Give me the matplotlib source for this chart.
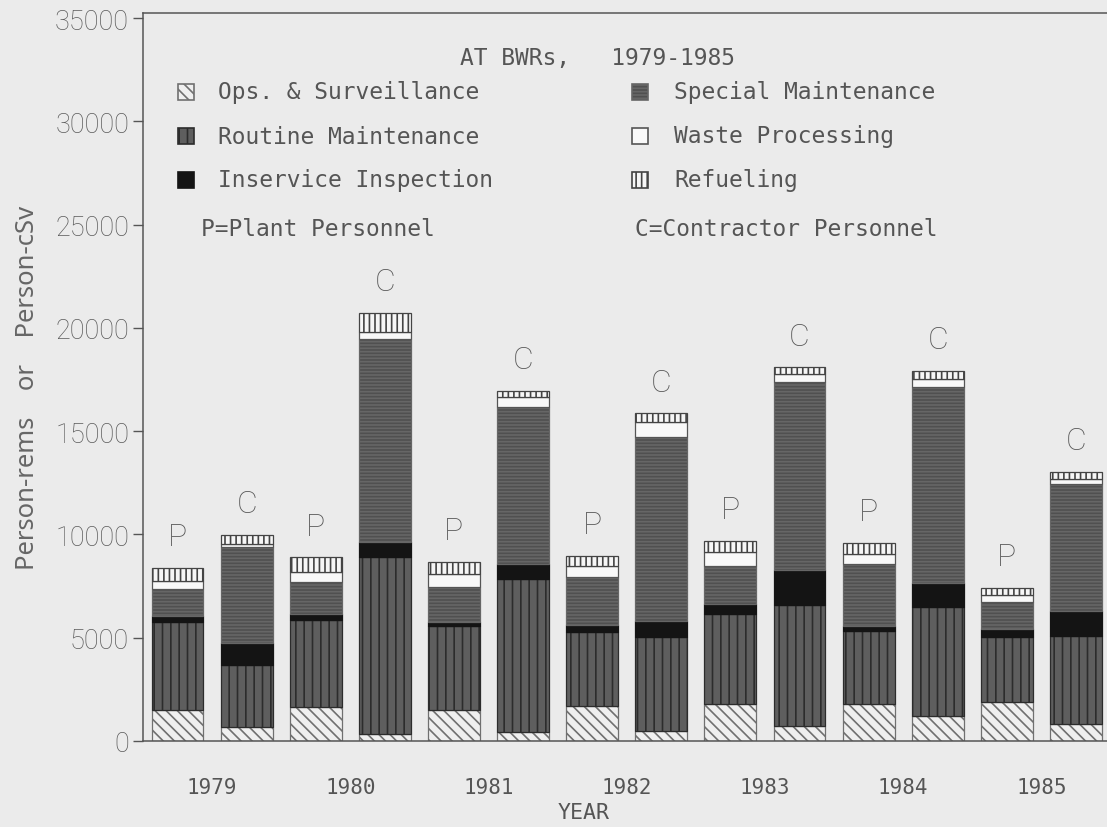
import matplotlib.pyplot as plt
import numpy as np
from matplotlib.patches import Rectangle

# Collective dose by work function at BWRs, 1979-1985 (P = plant, C = contractor)
years = ['1979', '1980', '1981', '1982', '1983', '1984', '1985']
groups = ['P', 'C'] * len(years)

ops = [1500, 680, 1650, 340, 1500, 440, 1690, 480, 1790, 730, 1790, 1210, 1890, 820]
routine = [4260, 3000, 4210, 8570, 4070, 7410, 3590, 4560, 4360, 5860, 3540, 5280, 3150, 4260]
inservice = [290, 1070, 290, 730, 190, 720, 340, 770, 480, 1690, 240, 1160, 380, 1220]
special = [1310, 4640, 1550, 9830, 1700, 7600, 2320, 8910, 1840, 9110, 3000, 9490, 1310, 6150]
waste = [390, 150, 480, 340, 630, 490, 530, 730, 680, 380, 490, 390, 340, 240]
refuel = [630, 440, 730, 920, 580, 290, 490, 430, 540, 340, 530, 390, 340, 340]

labels = ['Ops. & Surveillance', 'Routine Maintenance', 'Inservice Inspection',
          'Special Maintenance', 'Waste Processing', 'Refueling']
series = [ops, routine, inservice, special, waste, refuel]

# face, hatch/edge colour, hatch
styles = [('#efefef', '#707070', '\\\\\\'),
          ('#5e5e5e', '#2c2c2c', '||'),
          ('#141414', '#141414', ''),
          ('#505050', '#666666', '-----'),
          ('#f8f8f8', '#555555', ''),
          ('#f6f6f6', '#444444', '|||')]

bg = '#ebebeb'
txt = '#555555'
W, H = 1107, 828
plt.rcParams['hatch.linewidth'] = 1.2

fig = plt.figure(figsize=(W / 100, H / 100), dpi=100, facecolor=bg)
ax = fig.add_axes([143 / W, 1 - 742 / H, (W - 143) / W, (742 - 14) / H])
ax.set_facecolor(bg)


def px(x, y):
    return x / W, 1 - y / H


x = np.arange(len(groups))
bottom = np.zeros(len(groups))
for vals, (fc, ec, hatch) in zip(series, styles):
    ax.bar(x, vals, width=0.75, bottom=bottom, facecolor=fc, edgecolor=ec,
           hatch=hatch, linewidth=0.9)
    bottom += np.array(vals)

for xi, top, g in zip(x, bottom, groups):
    ax.text(xi, top + 1500, g, ha='center', va='center', fontsize=23,
            color=txt, family='Roboto', fontweight='light')

ax.set_xlim(-0.5, 13.45)
ax.set_ylim(0, 35250)
ax.set_yticks(np.arange(0, 35001, 5000))
ax.set_yticklabels([str(v) for v in range(0, 35001, 5000)], family='Roboto',
                   fontweight='light', fontsize=19.5, color='#5a5a5a')
ax.tick_params(axis='y', direction='out', length=7, width=1, color='#555555', pad=3)
ax.set_xticks(np.arange(len(years)) * 2 + 0.5)
ax.set_xticklabels(years, family='DejaVu Sans Mono', fontsize=15, color=txt)
ax.tick_params(axis='x', length=0, pad=26)
ax.spines['right'].set_visible(False)
for s in ['left', 'bottom', 'top']:
    ax.spines[s].set_color('#555555')
    ax.spines[s].set_linewidth(1.1)

fig.text(*px(584, 813), 'YEAR', ha='center', va='center', family='DejaVu Sans Mono',
         fontsize=15.5, color=txt)
fig.text(*px(28, 388), 'Person-rems    or    Person-cSv', rotation=90, ha='center',
         va='center', family='Noto Sans', fontsize=18.5, color='#666666')

# legend block drawn inside the plot area
mono = dict(family='DejaVu Sans Mono', fontsize=16.5, color=txt, va='center')
fig.text(*px(460, 58), 'AT BWRs,   1979-1985', ha='left', **mono)
rows = [93, 137, 181]
for i, (lab, (fc, ec, hatch)) in enumerate(zip(labels, styles)):
    col = i // 3
    sx, tx = (178, 218) if col == 0 else (632, 674)
    y = rows[i % 3]
    fx, fy = px(sx, y + 8)
    fig.patches.append(Rectangle((fx, fy), 16 / W, 16 / H, transform=fig.transFigure,
                                 facecolor=fc, edgecolor=ec, hatch=hatch, linewidth=1.2))
    fig.text(*px(tx, y), lab, ha='left', **mono)
fig.text(*px(201, 229), 'P=Plant Personnel', ha='left', **mono)
fig.text(*px(635, 229), 'C=Contractor Personnel', ha='left', **mono)

fig.savefig('out.png', dpi=100, facecolor=bg)
